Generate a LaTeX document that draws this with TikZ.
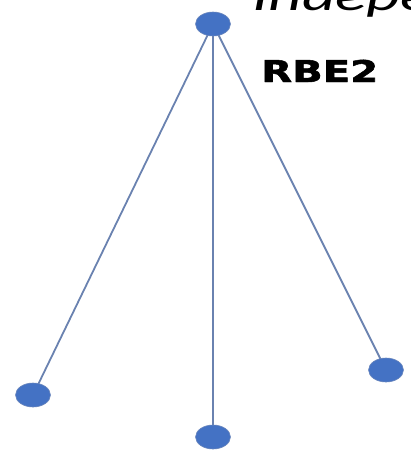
\documentclass[tikz,border=0pt]{standalone}
\usepackage{fontspec}
\setmainfont{Carlito}
\newfontfamily\lblfont[FakeBold=1.6]{DejaVu Sans Bold}
\usetikzlibrary{shapes.geometric}
\definecolor{nodeblue}{HTML}{4472C4}
\definecolor{nodeedge}{HTML}{6A86BC}
\definecolor{linkcol}{HTML}{6A82B0}
\tikzset{
  pt/.style={ellipse, fill=nodeblue, draw=nodeedge, line width=0.6pt, minimum width=35pt, minimum height=24pt, inner sep=0pt},
  link/.style={draw=linkcol, line width=1.8pt}
}
\begin{document}
\begin{tikzpicture}[x=1pt,y=-1pt]
\useasboundingbox (0,0) rectangle (410,455);
\coordinate (t) at (213,24);
\coordinate (l) at (33,395);
\coordinate (m) at (213,437);
\coordinate (r) at (386,370);
\draw[link] (t) -- (l);
\draw[link] (t) -- (m);
\draw[link] (t) -- (r);
\node[pt] (nt) at (t) {};
\node[pt] (nl) at (l) {};
\node[pt] (nm) at (m) {};
\node[pt] (nr) at (r) {};
\node[anchor=base west, inner sep=0pt] (title) at (252,10) {\scalebox{1.55}[1]{\fontsize{42}{50}\selectfont\itshape Independent}};
\node[anchor=base west, inner sep=0pt] (rbe) at (261,82) {\scalebox{1.34}[1]{\lblfont\fontsize{30}{36}\selectfont RBE2}};
\end{tikzpicture}
\end{document}
